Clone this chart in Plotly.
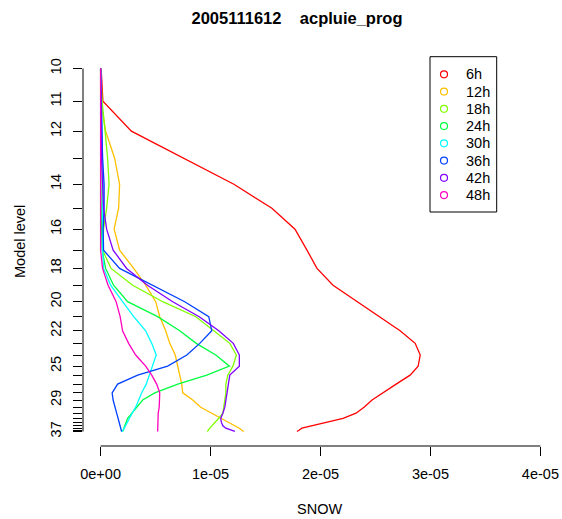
import plotly.graph_objects as go

# Model levels (top to bottom) and the vertical coordinate used to place them
levels = list(range(10, 38))
level_z = [12.11, 11.02, 10.02, 9.11, 8.25, 7.45, 6.75, 6.05, 5.44, 4.88,
           4.33, 3.83, 3.36, 2.94, 2.55, 2.18, 1.88, 1.58, 1.29, 1.05,
           0.81, 0.61, 0.44, 0.31, 0.19, 0.11, 0.04, 0.0]
labelled_levels = [10, 11, 12, 14, 16, 18, 20, 22, 25, 29, 37]

# SNOW profiles per forecast range, in units of 1e-5 (levels 10..37)
UNIT = 1e-5
snow_6h = [0.005, 0.021, 0.280, 0.765, 1.212, 1.558, 1.768, 1.877, 1.968, 2.114,
           2.333, 2.542, 2.724, 2.861, 2.907, 2.888, 2.815, 2.688, 2.570, 2.469,
           2.396, 2.323, 2.205, 2.050, 1.913, 1.831, 1.804, 1.786]
snow_12h = [0.0, 0.0, 0.046, 0.128, 0.173, 0.164, 0.123, 0.173, 0.301, 0.410,
            0.501, 0.538, 0.592, 0.629, 0.679, 0.702, 0.720, 0.738, 0.747, 0.838,
            0.911, 1.011, 1.089, 1.166, 1.221, 1.262, 1.285, 1.303]
snow_18h = [0.0, 0.014, 0.041, 0.064, 0.077, 0.055, 0.027, 0.018, 0.095, 0.292,
            0.565, 0.866, 1.030, 1.175, 1.235, 1.203, 1.157, 1.139, 1.139, 1.130,
            1.121, 1.112, 1.075, 1.039, 1.011, 0.993, 0.980, 0.970]
snow_24h = [0.0, 0.005, 0.014, 0.014, 0.014, 0.009, 0.009, 0.014, 0.046, 0.118,
            0.246, 0.519, 0.720, 0.870, 1.048, 1.171, 0.966, 0.702, 0.492, 0.383,
            0.328, 0.282, 0.246, 0.232, 0.219, 0.210, 0.205, 0.200]
snow_30h = [0.0, 0.005, 0.009, 0.018, 0.023, 0.018, 0.018, 0.018, 0.027, 0.091,
            0.200, 0.301, 0.410, 0.465, 0.506, 0.474, 0.442, 0.415, 0.374, 0.346,
            0.319, 0.287, 0.264, 0.241, 0.228, 0.214, 0.205, 0.191]
snow_36h = [0.0, 0.005, 0.009, 0.018, 0.032, 0.032, 0.023, 0.027, 0.173, 0.465,
            0.765, 0.984, 1.011, 0.902, 0.784, 0.610, 0.337, 0.155, 0.105, 0.114,
            0.128, 0.146, 0.159, 0.169, 0.178, 0.182, 0.187, 0.191]
snow_42h = [0.0, 0.0, 0.005, 0.009, 0.018, 0.027, 0.055, 0.114, 0.237, 0.426,
            0.656, 0.897, 1.075, 1.207, 1.262, 1.262, 1.175, 1.162, 1.153, 1.139,
            1.130, 1.112, 1.093, 1.098, 1.112, 1.139, 1.185, 1.221]
snow_48h = [0.0, 0.0, 0.0, 0.0, 0.0, 0.0, 0.0, 0.0, 0.018, 0.068,
            0.141, 0.178, 0.200, 0.255, 0.319, 0.410, 0.465, 0.510, 0.538, 0.538,
            0.533, 0.524, 0.524, 0.524, 0.522, 0.522, 0.522, 0.519]

series_names = ["6h", "12h", "18h", "24h", "30h", "36h", "42h", "48h"]
series_values = [snow_6h, snow_12h, snow_18h, snow_24h,
                 snow_30h, snow_36h, snow_42h, snow_48h]
series_colors = ["#FF0000", "#FFBF00", "#80FF00", "#00FF40",
                 "#00FFFF", "#0040FF", "#8000FF", "#FF00BF"]

x_tickvals = [0, 1e-5, 2e-5, 3e-5, 4e-5]
x_ticktext = ["0e+00", "1e-05", "2e-05", "3e-05", "4e-05"]
x_min, x_max = 0.0, 4e-5

FONT = "Liberation Sans, Arial, Helvetica, sans-serif"
W, H = 562, 519
ML, MR, MT, MB = 83, 4, 54, 73
PW, PH = W - ML - MR, H - MT - MB


def paper_x(px):
    return (px - ML) / PW


def paper_y(py):
    return (H - MB - py) / PH


fig = go.Figure()
for name, vals, col in zip(series_names, series_values, series_colors):
    fig.add_trace(go.Scatter(
        x=[v * UNIT for v in vals], y=level_z, mode="lines", name=name,
        line=dict(color=col, width=1.3), showlegend=False))

# axis ranges padded by 4% like a classic base-graphics plot
xpad = 0.04 * (x_max - x_min)
zmin, zmax = min(level_z), max(level_z)
ypad = 0.04 * (zmax - zmin)

ytext = [str(l) if l in labelled_levels else "" for l in levels]

fig.update_layout(
    width=W, height=H,
    margin=dict(l=ML, r=MR, t=MT, b=MB, pad=0),
    paper_bgcolor="white", plot_bgcolor="white",
    font=dict(family=FONT, size=14.5, color="black"),
    title=dict(text="<b>2005111612\u00a0\u00a0\u00a0\u00a0acpluie_prog</b>",
               x=297 / W, xref="container", xanchor="center",
               y=1 - 18 / H, yref="container", yanchor="middle",
               font=dict(family=FONT, size=16.5, color="black")),
    xaxis=dict(range=[x_min - xpad, x_max + xpad], showgrid=False, zeroline=False,
               showline=False, ticks="outside", ticklen=9, tickwidth=1,
               tickcolor="black", tickvals=x_tickvals, ticktext=x_ticktext,
               ticklabelstandoff=6,
               tickfont=dict(family=FONT, size=14.5, color="black")),
    yaxis=dict(range=[zmin - ypad, zmax + ypad], showgrid=False, zeroline=False,
               showline=False, ticks="outside", ticklen=9, tickwidth=1,
               tickcolor="black", tickvals=level_z, ticktext=ytext,
               tickangle=-90, ticklabelstandoff=6,
               tickfont=dict(family=FONT, size=14.5, color="black")),
    showlegend=False,
)

shapes = [
    # axis lines spanning the first to the last tick
    dict(type="line", xref="x", yref="paper", x0=x_min, x1=x_max, y0=0, y1=0,
         line=dict(color="black", width=1)),
    dict(type="line", xref="paper", yref="y", x0=0, x1=0, y0=zmin, y1=zmax,
         line=dict(color="black", width=1)),
    # legend frame
    dict(type="rect", xref="paper", yref="paper",
         x0=paper_x(430), x1=paper_x(496.7), y0=paper_y(212), y1=paper_y(56.7),
         line=dict(color="black", width=1), fillcolor="white"),
]
annotations = [
    dict(text="SNOW", xref="paper", yref="paper", x=paper_x(319), y=paper_y(509),
         xanchor="center", yanchor="middle", showarrow=False,
         font=dict(family=FONT, size=14.5, color="black")),
    dict(text="Model level", xref="paper", yref="paper", x=paper_x(20), y=paper_y(241),
         xanchor="center", yanchor="middle", textangle=-90, showarrow=False,
         font=dict(family=FONT, size=14.5, color="black")),
]

# legend entries: open circle + label
r = 3.5
for i, (name, col) in enumerate(zip(series_names, series_colors)):
    cy = 74.3 + i * 17.25
    shapes.append(dict(type="circle", xref="paper", yref="paper",
                       x0=paper_x(444 - r), x1=paper_x(444 + r),
                       y0=paper_y(cy + r), y1=paper_y(cy - r),
                       line=dict(color=col, width=1.2)))
    annotations.append(dict(text=name, xref="paper", yref="paper",
                            x=paper_x(464), y=paper_y(cy), xanchor="left",
                            yanchor="middle", showarrow=False,
                            font=dict(family=FONT, size=14.5, color="black")))

fig.update_layout(shapes=shapes, annotations=annotations)
fig.write_html("out.html")
